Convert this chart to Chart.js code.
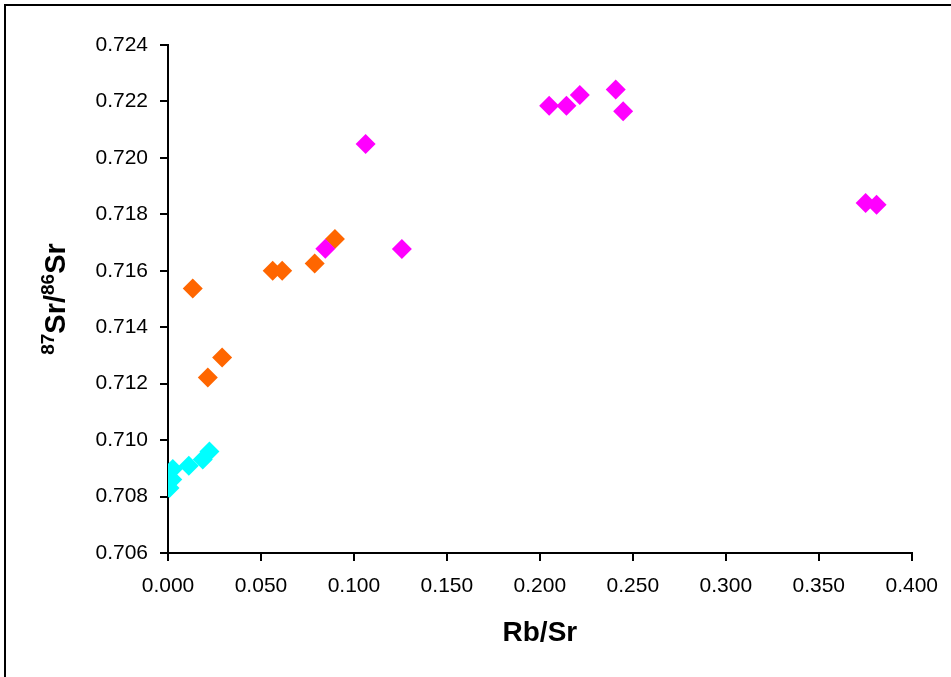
<!DOCTYPE html>
<html>
<head>
<meta charset="utf-8">
<script src="https://cdn.jsdelivr.net/npm/chart.js@4/dist/chart.umd.min.js"></script>
<style>
  html, body { margin: 0; padding: 0; background: #fff; }
  #wrap { position: relative; width: 951px; height: 677px; }
  canvas { display: block; }
</style>
</head>
<body>
<div id="wrap"><canvas id="c" width="951" height="677"></canvas></div>
<script>
// ---- data ----
const cyanX = [0.0008, 0.0023, 0.0026, 0.0112, 0.0187, 0.0223];
const cyanY = [0.70830, 0.70860, 0.70898, 0.70909, 0.70931, 0.70960];

const orangeX = [0.0133, 0.0214, 0.0291, 0.0563, 0.0614, 0.0789, 0.0898];
const orangeY = [0.71537, 0.71222, 0.71293, 0.71600, 0.71600, 0.71626, 0.71713];

const magentaX = [0.0846, 0.1063, 0.1258, 0.2050, 0.2143, 0.2215, 0.2408, 0.2448, 0.3752, 0.3811];
const magentaY = [0.71678, 0.72049, 0.71677, 0.72185, 0.72185, 0.72223, 0.72242, 0.72165, 0.71840, 0.71834];

const xTicks = [0.000, 0.050, 0.100, 0.150, 0.200, 0.250, 0.300, 0.350, 0.400];
const yTicks = [0.706, 0.708, 0.710, 0.712, 0.714, 0.716, 0.718, 0.720, 0.722, 0.724];

const xTitle = 'Rb/Sr';
const yTitleParts = [['87', true], ['Sr/', false], ['86', true], ['Sr', false]];

function pts(xs, ys) { return xs.map((x, i) => ({ x: x, y: ys[i] })); }

const FONT = '"Liberation Sans", Arial, sans-serif';

const framePlugin = {
  id: 'frame',
  afterDraw(chart) {
    const ctx = chart.ctx;
    ctx.save();
    ctx.strokeStyle = '#000';
    ctx.lineWidth = 2;
    ctx.beginPath();
    ctx.moveTo(5, 677);
    ctx.lineTo(5, 5);
    ctx.lineTo(951, 5);
    ctx.stroke();

    // y-axis title with superscripts
    const area = chart.chartArea;
    const cy = (area.top + area.bottom) / 2;
    const cx = 55;
    ctx.translate(cx, cy);
    ctx.rotate(-Math.PI / 2);
    const big = 'bold 29px ' + FONT;
    const small = 'bold 19px ' + FONT;
    let total = 0;
    yTitleParts.forEach(([t, sup]) => { ctx.font = sup ? small : big; total += ctx.measureText(t).width; });
    let x = -total / 2;
    ctx.fillStyle = '#000';
    ctx.textBaseline = 'alphabetic';
    yTitleParts.forEach(([t, sup]) => {
      ctx.font = sup ? small : big;
      ctx.fillText(t, x, sup ? -1 : 10);
      x += ctx.measureText(t).width;
    });
    ctx.restore();
  }
};

new Chart(document.getElementById('c'), {
  type: 'scatter',
  data: {
    datasets: [
      { label: 'A', data: pts(cyanX, cyanY), backgroundColor: '#00FFFF', borderWidth: 0, pointStyle: 'rectRot', pointRadius: 10, order: 3 },
      { label: 'B', data: pts(orangeX, orangeY), backgroundColor: '#FF6600', borderWidth: 0, pointStyle: 'rectRot', pointRadius: 10, order: 2 },
      { label: 'C', data: pts(magentaX, magentaY), backgroundColor: '#FF00FF', borderWidth: 0, pointStyle: 'rectRot', pointRadius: 10, order: 1 }
    ]
  },
  options: {
    responsive: false,
    animation: false,
    devicePixelRatio: 1,
    layout: { padding: { left: 0, right: 38, top: 45, bottom: 0 } },
    plugins: { legend: { display: false }, tooltip: { enabled: false } },
    scales: {
      x: {
        type: 'linear',
        min: 0, max: 0.4,
        afterBuildTicks: (s) => { s.ticks = xTicks.map(v => ({ value: v })); },
        ticks: { callback: v => v.toFixed(3), color: '#000', font: { family: FONT, size: 21 }, padding: 13, maxRotation: 0 },
        grid: { drawOnChartArea: false, drawTicks: true, tickLength: 8, color: '#000', lineWidth: 2 },
        border: { color: '#000', width: 2 },
        title: { display: true, text: xTitle, color: '#000', font: { family: FONT, size: 28, weight: 'bold' }, padding: { top: 4, bottom: 27 } },
        afterFit: (s) => { s.height = 124; }
      },
      y: {
        type: 'linear',
        min: 0.706, max: 0.724,
        afterBuildTicks: (s) => { s.ticks = yTicks.map(v => ({ value: v })); },
        ticks: { callback: v => v.toFixed(3), color: '#000', font: { family: FONT, size: 21 }, padding: 12 },
        grid: { drawOnChartArea: false, drawTicks: true, tickLength: 8, color: '#000', lineWidth: 2 },
        border: { color: '#000', width: 2 },
        afterFit: (s) => { s.width = 168; }
      }
    }
  },
  plugins: [framePlugin]
});
</script>
</body>
</html>
